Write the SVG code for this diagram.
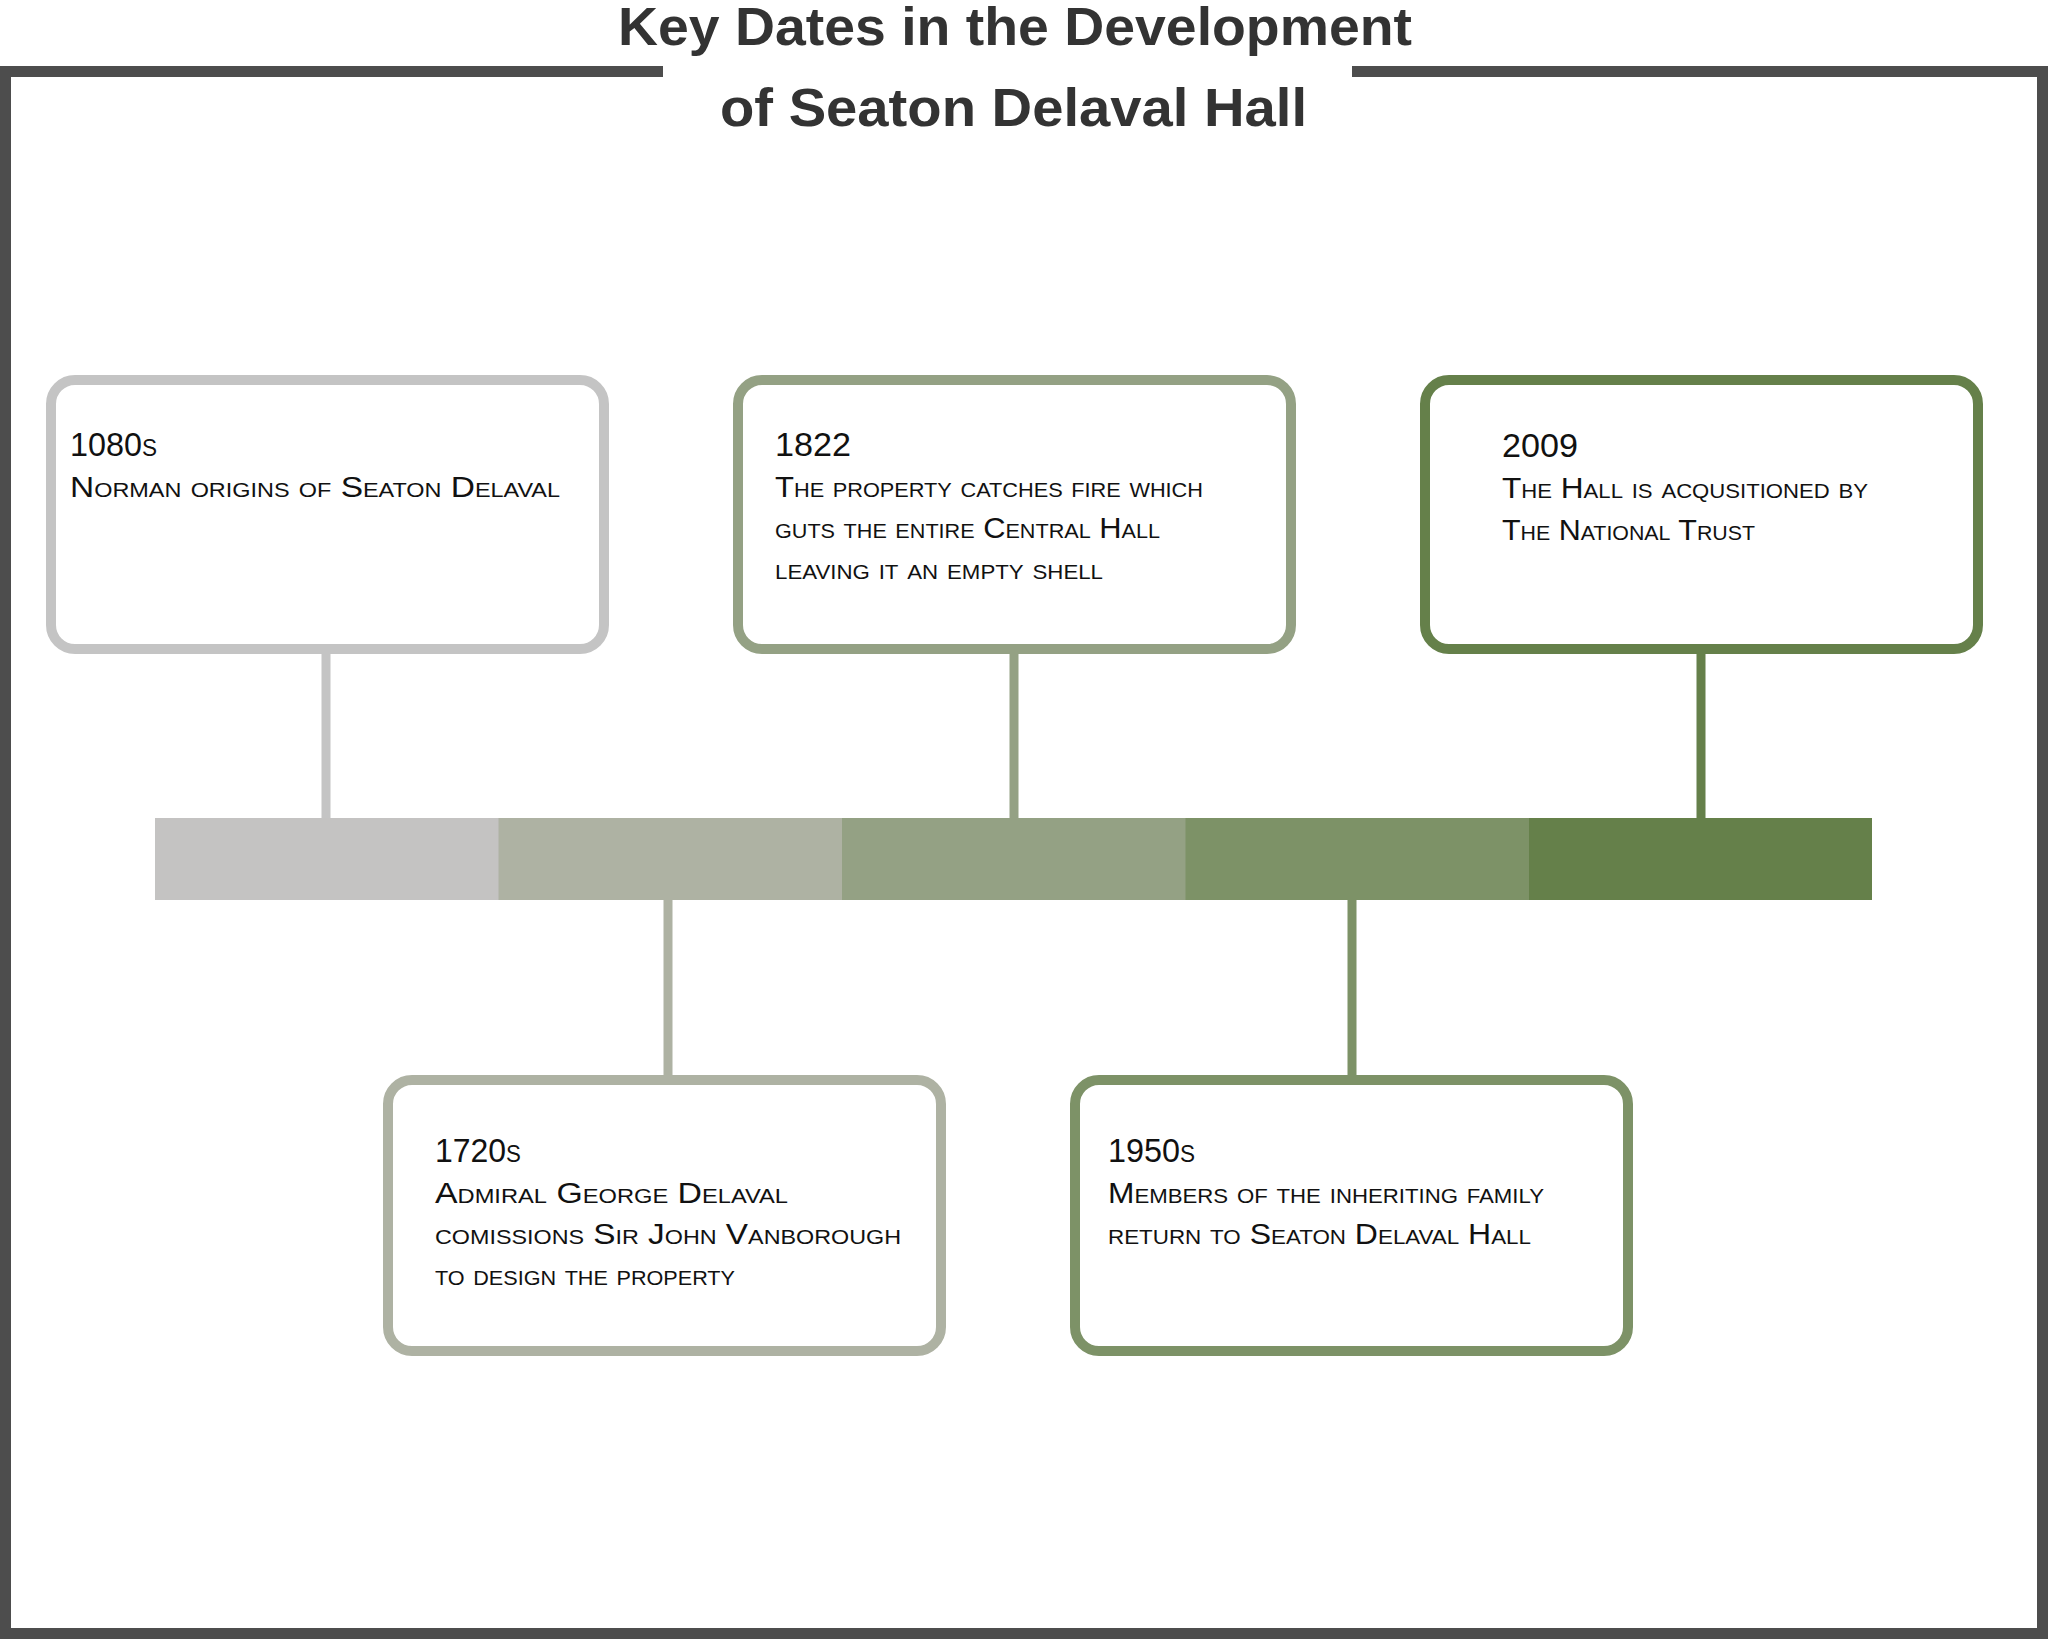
<svg xmlns="http://www.w3.org/2000/svg" width="2048" height="1639" viewBox="0 0 2048 1639">
<style>
.frame{fill:none;stroke:#4d4d4d;stroke-width:11}
.title{font-family:"Liberation Sans",Arial,sans-serif;font-weight:bold;font-size:53px;fill:#333333}
.box{fill:#ffffff;stroke-width:10}
.t{font-family:"Liberation Sans",Arial,sans-serif;font-variant:small-caps;fill:#111111}
.date{font-size:33px}
.body{font-size:30px}
.conn{stroke-width:9}
</style>
<rect width="2048" height="1639" fill="#ffffff"/>
<path class="frame" d="M663,71.5 H5.5 V1633.5 H2042.5 V71.5 H1352"/>
<text class="title" x="618" y="45" textLength="794" lengthAdjust="spacingAndGlyphs">Key Dates in the Development</text>
<text class="title" x="720" y="126" textLength="587" lengthAdjust="spacingAndGlyphs">of Seaton Delaval Hall</text>

<g id="timeline">
<rect x="155" y="818" width="344" height="82" fill="#c4c3c2"/>
<rect x="498.5" y="818" width="344" height="82" fill="#aeb2a3"/>
<rect x="842" y="818" width="344" height="82" fill="#94a184"/>
<rect x="1185.5" y="818" width="344" height="82" fill="#7d9267"/>
<rect x="1529" y="818" width="343" height="82" fill="#65804a"/>
</g>

<g id="connectors">
<line class="conn" x1="326" y1="652" x2="326" y2="818" stroke="#c4c4c4"/>
<line class="conn" x1="1014" y1="652" x2="1014" y2="818" stroke="#94a184"/>
<line class="conn" x1="1701" y1="652" x2="1701" y2="818" stroke="#65804a"/>
<line class="conn" x1="668" y1="900" x2="668" y2="1078" stroke="#aeb2a3"/>
<line class="conn" x1="1352" y1="900" x2="1352" y2="1078" stroke="#7d9267"/>
</g>

<g id="node-1080s">
<rect class="box" x="51" y="380" width="553" height="269" rx="24" stroke="#c4c4c4"/>
<text class="t date" x="70" y="456" textLength="87" lengthAdjust="spacingAndGlyphs">1080s</text>
<text class="t body" x="70" y="497" textLength="490" lengthAdjust="spacingAndGlyphs">Norman origins of Seaton Delaval</text>
</g>

<g id="node-1822">
<rect class="box" x="738" y="380" width="553" height="269" rx="24" stroke="#94a184"/>
<text class="t date" x="775" y="456" textLength="76" lengthAdjust="spacingAndGlyphs">1822</text>
<text class="t body" x="775" y="497" textLength="428" lengthAdjust="spacingAndGlyphs">The property catches fire which</text>
<text class="t body" x="775" y="538" textLength="385" lengthAdjust="spacingAndGlyphs">guts the entire Central Hall</text>
<text class="t body" x="775" y="579" textLength="328" lengthAdjust="spacingAndGlyphs">leaving it an empty shell</text>
</g>

<g id="node-2009">
<rect class="box" x="1425" y="380" width="553" height="269" rx="24" stroke="#65804a"/>
<text class="t date" x="1502" y="457" textLength="76" lengthAdjust="spacingAndGlyphs">2009</text>
<text class="t body" x="1502" y="498" textLength="366" lengthAdjust="spacingAndGlyphs">The Hall is acqusitioned by</text>
<text class="t body" x="1502" y="540" textLength="253" lengthAdjust="spacingAndGlyphs">The National Trust</text>
</g>

<g id="node-1720s">
<rect class="box" x="388" y="1080" width="553" height="271" rx="24" stroke="#aeb2a3"/>
<text class="t date" x="435" y="1162" textLength="86" lengthAdjust="spacingAndGlyphs">1720s</text>
<text class="t body" x="435" y="1203" textLength="353" lengthAdjust="spacingAndGlyphs">Admiral George Delaval</text>
<text class="t body" x="435" y="1244" textLength="466" lengthAdjust="spacingAndGlyphs">comissions Sir John Vanborough</text>
<text class="t body" x="435" y="1285" textLength="300" lengthAdjust="spacingAndGlyphs">to design the property</text>
</g>

<g id="node-1950s">
<rect class="box" x="1075" y="1080" width="553" height="271" rx="24" stroke="#7d9267"/>
<text class="t date" x="1108" y="1162" textLength="87" lengthAdjust="spacingAndGlyphs">1950s</text>
<text class="t body" x="1108" y="1203" textLength="436" lengthAdjust="spacingAndGlyphs">Members of the inheriting family</text>
<text class="t body" x="1108" y="1244" textLength="423" lengthAdjust="spacingAndGlyphs">return to Seaton Delaval Hall</text>
</g>
</svg>
